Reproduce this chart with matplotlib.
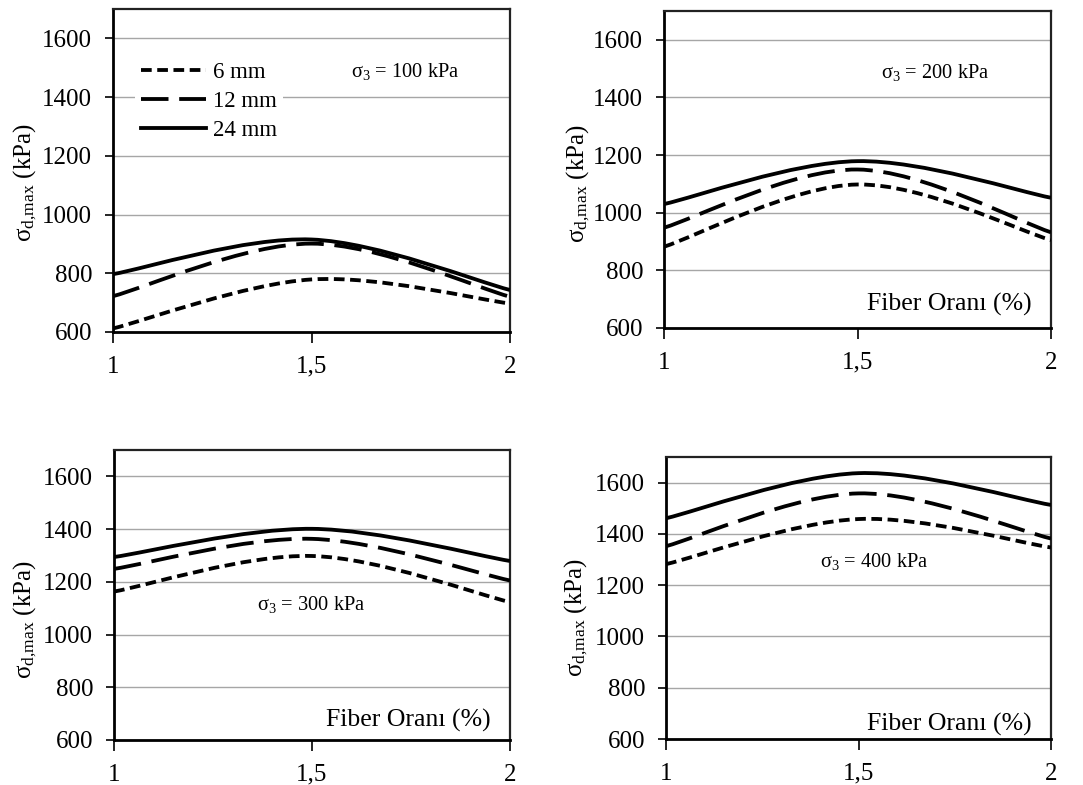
import matplotlib
matplotlib.use("Agg")
import matplotlib.pyplot as plt
from matplotlib.path import Path
from matplotlib.patches import PathPatch
from matplotlib.lines import Line2D

plt.rcParams['font.family'] = ['Liberation Serif', 'DejaVu Serif']
plt.rcParams['mathtext.fontset'] = 'custom'
plt.rcParams['mathtext.rm'] = 'Liberation Serif'
plt.rcParams['mathtext.it'] = 'Liberation Serif:italic'
plt.rcParams['mathtext.default'] = 'rm'

# ---- data ----
fiber = [1.0, 1.5, 2.0]
xtick_labels = ["1", "1,5", "2"]
series_labels = ["6 mm", "12 mm", "24 mm"]

p100_6 = [612, 779, 697]
p100_12 = [722, 901, 720]
p100_24 = [797, 915, 743]

p200_6 = [882, 1098, 905]
p200_12 = [948, 1150, 932]
p200_24 = [1030, 1179, 1052]

p300_6 = [1163, 1298, 1123]
p300_12 = [1249, 1363, 1205]
p300_24 = [1294, 1401, 1279]

p400_6 = [1282, 1458, 1347]
p400_12 = [1352, 1558, 1382]
p400_24 = [1461, 1637, 1513]

panel_titles = ["100", "200", "300", "400"]

# ---- styles ----
LW = 2.75
styles = [dict(ls=(0, (2.8, 1.45)), cap='butt'),
          dict(ls=(0, (7.2, 2.8)), cap='butt'),
          dict(ls='solid', cap='butt')]


def smooth_path(xs, ys):
    """Excel-style smoothed line as cubic Bezier path through the data points."""
    pts = list(zip(xs, ys))
    n = len(pts)
    verts = [pts[0]]
    codes = [Path.MOVETO]
    for i in range(n - 1):
        p0 = pts[i - 1] if i > 0 else pts[i]
        p1 = pts[i]
        p2 = pts[i + 1]
        p3 = pts[i + 2] if i + 2 < n else pts[i + 1]
        c1 = (p1[0] + (p2[0] - p0[0]) / 6.0, p1[1] + (p2[1] - p0[1]) / 6.0)
        c2 = (p2[0] - (p3[0] - p1[0]) / 6.0, p2[1] - (p3[1] - p1[1]) / 6.0)
        verts += [c1, c2, p2]
        codes += [Path.CURVE4] * 3
    return Path(verts, codes)


fig = plt.figure(figsize=(10.83, 7.85), dpi=100)
W, H = 1083.0, 785.0
# pixel boxes: left, top, right, bottom
boxes = [(113, 9, 510, 332), (664, 11, 1051, 328),
         (114, 450, 510, 740), (666, 457, 1051, 739)]
panel_data = [(p100_6, p100_12, p100_24), (p200_6, p200_12, p200_24),
              (p300_6, p300_12, p300_24), (p400_6, p400_12, p400_24)]
sig_pos = [(0.60, 0.805), (0.56, 0.807), (0.361, 0.466), (0.40, 0.628)]
ylab_pos = [(-0.222, 0.464), (-0.222, 0.457), (-0.225, 0.417), (-0.234, 0.43)]
show_fiber = [False, True, True, True]

for k, (l, t, r, b) in enumerate(boxes):
    ax = fig.add_axes([l / W, (H - b) / H, (r - l) / W, (b - t) / H])
    ax.set_xlim(1, 2)
    ax.set_ylim(600, 1700)
    ax.set_yticks([600, 800, 1000, 1200, 1400, 1600])
    ax.set_xticks(fiber)
    ax.set_xticklabels(xtick_labels)
    ax.yaxis.grid(True, color='#a6a6a6', lw=1.0)
    ax.set_axisbelow(True)
    for s in ['left', 'bottom']:
        ax.spines[s].set_linewidth(2.0)
        ax.spines[s].set_color('black')
    for s in ['top', 'right']:
        ax.spines[s].set_linewidth(1.6)
        ax.spines[s].set_color('#222222')
    ax.tick_params(axis='both', labelsize=18, direction='out', width=1.2,
                   colors='black')
    ax.tick_params(axis='y', length=6, pad=9)
    ax.tick_params(axis='x', length=8, pad=9)
    lx, ly = ylab_pos[k]
    ax.text(lx, ly, r'$\sigma_{\mathrm{d{,}max}}$ (kPa)', fontsize=18,
            rotation=90, ha='center', va='center', transform=ax.transAxes)

    for ys, st in zip(panel_data[k], styles):
        patch = PathPatch(smooth_path(fiber, ys), fill=False, edgecolor='black',
                          lw=LW, linestyle=st['ls'], capstyle=st['cap'],
                          transform=ax.transData, zorder=3)
        ax.add_patch(patch)

    sx, sy = sig_pos[k]
    ax.text(sx, sy, r'$\sigma_3$ = ' + panel_titles[k] + ' kPa', transform=ax.transAxes,
            fontsize=14.7, ha='left', va='center')
    if show_fiber[k]:
        fy = [0, 0.073, 0.069, 0.053][k]
        ax.text(0.95, fy, 'Fiber Oranı (%)', transform=ax.transAxes,
                fontsize=18.5, ha='right', va='center')

    if k == 0:
        handles = [Line2D([], [], color='black', lw=LW, linestyle=st['ls'])
                   for st in styles]
        leg = ax.legend(handles, series_labels, loc='upper left',
                        bbox_to_anchor=(0.055, 0.855), fontsize=16.5,
                        handlelength=2.85, handletextpad=0.3,
                        labelspacing=0.36, borderpad=0.25, borderaxespad=0,
                        frameon=True, fancybox=False)
        leg.get_frame().set_facecolor('white')
        leg.get_frame().set_edgecolor('none')
        leg.get_frame().set_alpha(1.0)

fig.savefig('out.png', dpi=100)
